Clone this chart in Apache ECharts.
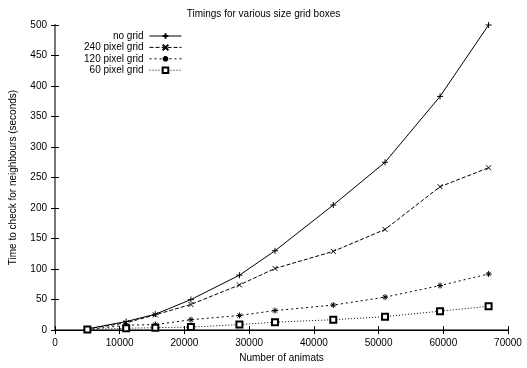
<!DOCTYPE html>
<html>
<head>
<meta charset="utf-8">
<script src="https://cdn.jsdelivr.net/npm/echarts@6/dist/echarts.min.js"></script>
<style>html,body{margin:0;padding:0;background:#fff;}#c{width:527px;height:368px;}</style>
</head>
<body>
<div id="c"></div>
<script>
const animats = [5000, 11000, 15500, 21000, 28500, 34000, 43000, 51000, 59500, 67000];
const noGrid = [2, 14, 26, 50, 90, 130, 205, 275, 383, 500];
const grid240 = [2, 12, 25, 42, 74, 101, 129, 165, 235, 266];
const grid120 = [1, 8, 9, 17, 24, 32, 41, 54, 73, 92];
const grid60 = [1, 3, 4, 5, 9, 13, 17, 22, 31, 39];
const seriesNames = ['no grid', '240 pixel grid', '120 pixel grid', '60 pixel grid'];

const font = 'Liberation Sans, Arial, Helvetica, sans-serif';
const pair = arr => animats.map((x, i) => [x, arr[i]]);

const plus = 'path://M0,5L10,5M5,0L5,10';
const cross = 'path://M0,0L10,10M10,0L0,10';
const star = 'path://M0,5L10,5M5,0L5,10M1.5,1.5L8.5,8.5M8.5,1.5L1.5,8.5';

function mk(name, data, symbol, size, type) {
  return {
    name, type: 'line', data: pair(data), symbol, symbolSize: size,
    showAllSymbol: true,
    lineStyle: { color: '#000', width: 1, type },
    itemStyle: { color: '#000', borderColor: '#000', borderWidth: 1 },
    emphasis: { disabled: true },
    animation: false
  };
}

const chart = echarts.init(document.getElementById('c'));
chart.setOption({
  backgroundColor: '#fff',
  animation: false,
  title: {
    text: 'Timings for various size grid boxes', left: 'center', top: 4,
    textStyle: { fontFamily: font, fontSize: 10, fontWeight: 'normal', color: '#000' }
  },
  legend: {
    orient: 'vertical', right: 345, top: 31, align: 'right', padding: 0,
    itemWidth: 32, itemHeight: 7, itemGap: 1.4,
    lineStyle: { width: 1 },
    textStyle: { fontFamily: font, fontSize: 10, lineHeight: 8, color: '#000', padding: [0, 1, 0, 0] },
    data: seriesNames
  },
  grid: { left: 54, right: 19, top: 25, bottom: 34, show: false },
  xAxis: [{
    type: 'value', min: 0, max: 70000, interval: 10000,
    name: 'Number of animats', nameLocation: 'middle', nameGap: 21,
    nameTextStyle: { fontFamily: font, fontSize: 10, color: '#000' },
    axisLine: { show: true, lineStyle: { color: '#777', width: 2 } },
    axisTick: { inside: true, length: 4, lineStyle: { color: '#000' } },
    axisLabel: { fontFamily: font, fontSize: 10, color: '#000', margin: 8, formatter: v => String(v) },
    splitLine: { show: false }
  }, {
    type: 'value', min: 0, max: 70000, interval: 10000, position: 'top',
    axisLine: { show: true, lineStyle: { color: '#000' } },
    axisTick: { inside: true, length: 4, lineStyle: { color: '#000' } },
    axisLabel: { show: false }, splitLine: { show: false }
  }],
  yAxis: [{
    type: 'value', min: 0, max: 500, interval: 50,
    name: 'Time to check for neighbours (seconds)', nameLocation: 'middle', nameGap: 37,
    nameTextStyle: { fontFamily: font, fontSize: 10, color: '#000' },
    axisLine: { show: true, lineStyle: { color: '#000' } },
    axisTick: { inside: true, length: 4, lineStyle: { color: '#000' } },
    axisLabel: { fontFamily: font, fontSize: 10, color: '#000', margin: 8 },
    splitLine: { show: false }
  }, {
    type: 'value', min: 0, max: 500, interval: 50, position: 'right',
    axisLine: { show: true, lineStyle: { color: '#777', width: 2 } },
    axisTick: { inside: true, length: 4, lineStyle: { color: '#000' } },
    axisLabel: { show: false }, splitLine: { show: false }
  }],
  series: [
    mk(seriesNames[0], noGrid, plus, 6, 'solid'),
    mk(seriesNames[1], grid240, cross, 5, [4, 2]),
    mk(seriesNames[2], grid120, star, 6, [2, 3]),
    mk(seriesNames[3], grid60, 'emptyRect', 6, [1, 2])
  ]
});
</script>
</body>
</html>
